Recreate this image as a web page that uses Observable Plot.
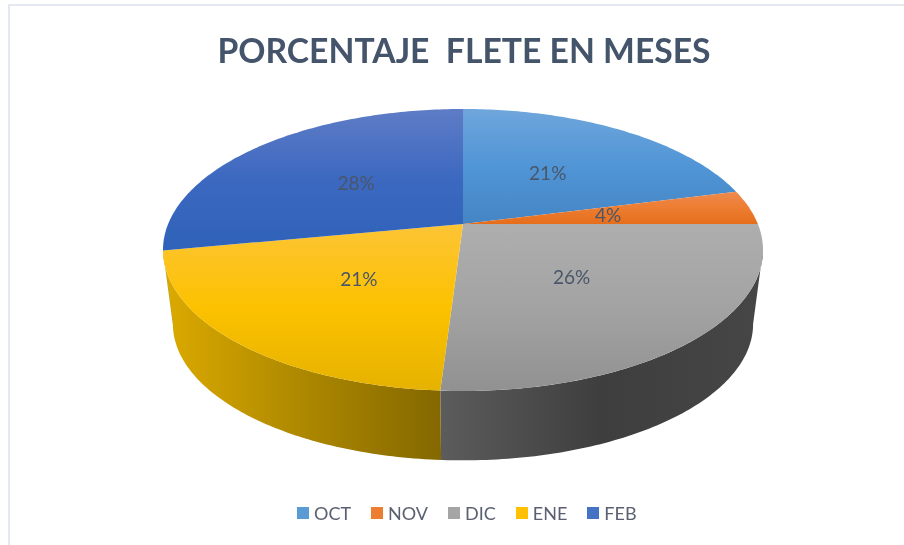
<!DOCTYPE html>
<html lang="es">
<head>
<meta charset="utf-8">
<title>PORCENTAJE FLETE EN MESES</title>
<script src="https://cdn.jsdelivr.net/npm/d3@7"></script>
<script src="https://cdn.jsdelivr.net/npm/@observablehq/plot@0.6"></script>
<style>
  html, body { margin: 0; padding: 0; background: #fff; }
  #page { position: relative; width: 904px; height: 545px; overflow: hidden; font-family: Lato, sans-serif; filter: blur(0.5px); }
  #edge { position: absolute; left: 8px; top: 4px; right: -4px; bottom: -4px; border-left: 2px solid #e4e9f1; border-top: 2px solid #e4e9f1; }
  #title { position: absolute; left: 0; top: 28px; width: 928px; margin: 0; text-align: center; font: bold 33.7px/44px Lato, sans-serif; color: #44546a; white-space: pre; }
  #chart { position: absolute; left: 0; top: 80px; }
  #legend { position: absolute; left: 297px; top: 496px; }
  #legend svg { margin-right: 5px !important; }
  #legend span { margin-right: 20px !important; }
  svg { display: block; }
</style>
</head>
<body>
<div id="page">
  <div id="edge"></div>
  <h2 id="title"></h2>
  <div id="chart"></div>
  <div id="legend"></div>
</div>
<script>
const titleText = "PORCENTAJE  FLETE EN MESES";
const months = ["OCT", "NOV", "DIC", "ENE", "FEB"];
const shares = [21, 4, 26, 21, 28];
const swatchColors = ["#5b9bd5", "#ed7d31", "#a5a5a5", "#ffc000", "#4472c4"];
const topStops = [
  ["#6fa6dc", "#5095d6", "#4585c4"],
  ["#ee8a4e", "#ed7d31", "#e56e1c"],
  ["#aeaeae", "#a3a3a3", "#919191"],
  ["#fdc436", "#fcc200", "#e6b200"],
  ["#5f7cc6", "#3c68c0", "#2f62b9"]
];
const wallStops = [
  ["#000", "#000", "#000"],
  ["#000", "#000", "#000"],
  ["#5c5c5c", "#3e3e3e", "#464646"],
  ["#dcaa00", "#ad8800", "#846800"],
  ["#000", "#000", "#000"]
];

// Pie seen in perspective: the disc's centre does not fall at the centre of the drawn ellipse.
const tilt = 0.184;
const squeeze = Math.sqrt(1 - tilt * tilt);
const depthScale = 0.967;
const depthShift = 0.525;
const project = (share, r = 1) => {
  const a = share / 100 * 2 * Math.PI;
  const u = r * Math.sin(a), v = -r * Math.cos(a);
  const d = 1 - tilt * v;
  return {x: squeeze * u / d, y: -tilt + (1 - tilt * tilt) * v / d};
};
const hub = project(0, 0);
const starts = d3.cumsum([0, ...shares]);

// The side wall is visible between the two widest points of the rim.
const wallFrom = 25 + Math.asin(tilt) / (2 * Math.PI) * 100;
const wallTo = 100 - wallFrom;

// 0.25 steps of a percent along each rim
const steps = (a, b) => d3.range(a, b, 0.25).concat(b);

const topRows = months.map((m, i) => steps(starts[i], starts[i + 1]).map((s) => {
  const p = project(s);
  return {x1: p.x, y1: p.y, x2: hub.x, y2: hub.y};
}));
const wallRows = months.map((m, i) => {
  const a = Math.max(starts[i], wallFrom), b = Math.min(starts[i + 1], wallTo);
  if (a >= b) return null;
  return steps(a, b).map((s) => {
    const p = project(s);
    return {x1: p.x, y1: p.y, x2: p.x * depthScale, y2: p.y * depthScale + depthShift};
  });
});
const labels = months.map((m, i) => {
  const p = project(starts[i] + shares[i] / 2, 0.5);
  return {x: p.x, y: p.y, text: shares[i] + "%"};
});

const defs = () => {
  const g = d3.create("svg:defs");
  const add = (id, stops, x2, y2) => {
    const lg = g.append("linearGradient").attr("id", id).attr("x1", 0).attr("y1", 0).attr("x2", x2).attr("y2", y2);
    stops.forEach((c, k) => lg.append("stop").attr("offset", k / (stops.length - 1)).attr("stop-color", c));
  };
  months.forEach((m, i) => {
    add("top" + i, topStops[i], 0, 1);
    add("wall" + i, wallStops[i], 1, 0);
  });
  return g.node();
};

const plot = Plot.plot({
  width: 904,
  height: 400,
  margin: 0,
  x: {domain: [-1, 1], range: [163, 763], axis: null},
  y: {domain: [-1, 1], range: [29, 311], axis: null},
  marks: [
    defs,
    ...wallRows.flatMap((rows, i) => rows ? [Plot.area(rows, {x1: "x1", y1: "y1", x2: "x2", y2: "y2", fill: `url(#wall${i})`})] : []),
    ...topRows.map((rows, i) => Plot.area(rows, {x1: "x1", y1: "y1", x2: "x2", y2: "y2", fill: `url(#top${i})`})),
    Plot.text(labels, {x: "x", y: "y", text: "text", fontSize: 19, fill: "#4a5668", fontFamily: "Lato, sans-serif"})
  ]
});
document.getElementById("chart").append(plot);
document.getElementById("title").textContent = titleText;

const legend = Plot.legend({
  color: {type: "ordinal", domain: months, range: swatchColors},
  swatchSize: 12,
  style: {fontSize: "18px", fontFamily: "Lato, sans-serif", color: "#5a6070"}
});
document.getElementById("legend").append(legend);
</script>
</body>
</html>
